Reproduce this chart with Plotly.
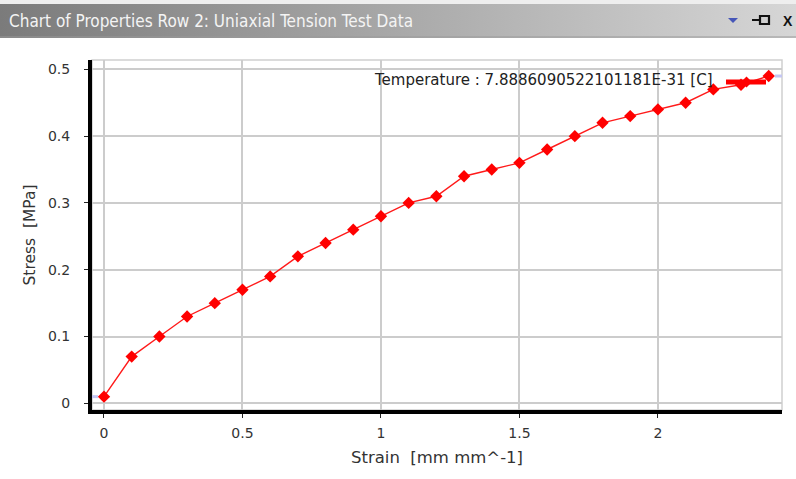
import base64
import plotly.graph_objects as go

# ---------------- data ----------------
strain = [0.0, 0.1, 0.2, 0.3, 0.4, 0.5, 0.6, 0.7, 0.8, 0.9, 1.0, 1.1, 1.2,
          1.3, 1.4, 1.5, 1.6, 1.7, 1.8, 1.9, 2.0, 2.1, 2.2, 2.3, 2.4]
stress = [0.01, 0.07, 0.10, 0.13, 0.15, 0.17, 0.19, 0.22, 0.24, 0.26, 0.28, 0.30, 0.31,
          0.34, 0.35, 0.36, 0.38, 0.40, 0.42, 0.43, 0.44, 0.45, 0.47, 0.477, 0.49]
x_ticks = [0, 0.5, 1, 1.5, 2]
x_tick_labels = ["0", "0.5", "1", "1.5", "2"]
y_ticks = [0, 0.1, 0.2, 0.3, 0.4, 0.5]
y_tick_labels = ["0", "0.1", "0.2", "0.3", "0.4", "0.5"]
panel_title = "Chart of Properties Row 2: Uniaxial Tension Test Data"
legend_text = "Temperature : 7.8886090522101181E-31 [C]"
x_title = "Strain\u00a0\u00a0[mm mm^-1]"
y_title = "Stress\u00a0\u00a0[MPa]"

# ---------------- layout geometry ----------------
W, H = 796, 479
L, R, T, B = 92, 14, 60, 69
PW, PH = W - L - R, H - T - B


def px(xp):
    return (xp - L) / PW


def py(yp):
    return (H - B - yp) / PH


RED = "#ff1a1a"
FONT = "DejaVu Sans"

fig = go.Figure()
fig.add_trace(go.Scatter(
    x=strain, y=stress, mode="lines+markers",
    line=dict(color=RED, width=1.4),
    marker=dict(symbol="diamond", size=9.5, color="#ff0000"),
    showlegend=False, hoverinfo="skip",
))

# title bar gradient as svg image
svg = ('<svg xmlns="http://www.w3.org/2000/svg" width="796" height="34">'
       '<defs><linearGradient id="g" x1="0" y1="0" x2="1" y2="0">'
       '<stop offset="0" stop-color="#7b7b7b"/><stop offset="1" stop-color="#d6d6d6"/>'
       '</linearGradient></defs><rect width="796" height="34" fill="url(#g)"/>'
       '<rect y="32" width="796" height="2" fill="#9a9a9a" opacity="0.5"/></svg>')
src = "data:image/svg+xml;base64," + base64.b64encode(svg.encode()).decode()

shapes = []
# plot frame (light gray) top/right
shapes.append(dict(type="rect", xref="paper", yref="paper", x0=0, x1=1, y0=0, y1=1,
                   line=dict(color="#cfcfcf", width=1.5), layer="below"))
# top light strip
shapes.append(dict(type="rect", xref="paper", yref="paper", x0=px(0), x1=px(W),
                   y0=py(4), y1=py(0), line=dict(width=0), fillcolor="#eeeeee"))
# legend symbol
shapes.append(dict(type="line", xref="paper", yref="paper", x0=px(726), x1=px(766),
                   y0=py(82), y1=py(82), line=dict(color="#ff0000", width=5)))
cx, cy, s = 746.5, 82, 5.5
shapes.append(dict(type="path", xref="paper", yref="paper",
                   path=f"M {px(cx-s)} {py(cy)} L {px(cx)} {py(cy-s)} L {px(cx+s)} {py(cy)} L {px(cx)} {py(cy+s)} Z",
                   fillcolor="#ff0000", line=dict(width=0)))
# light blue cursor dashes at first / last value
shapes.append(dict(type="line", xref="paper", yref="y", x0=px(92), x1=px(98),
                   y0=stress[0], y1=stress[0], line=dict(color="#c4c6f2", width=3)))
shapes.append(dict(type="line", xref="paper", yref="y", x0=px(775), x1=px(782),
                   y0=stress[-1], y1=stress[-1], line=dict(color="#c4c6f2", width=3)))
# pin icon
shapes.append(dict(type="line", xref="paper", yref="paper", x0=px(752), x1=px(760),
                   y0=py(20), y1=py(20), line=dict(color="#111", width=2)))
shapes.append(dict(type="rect", xref="paper", yref="paper", x0=px(760), x1=px(769),
                   y0=py(24), y1=py(16), line=dict(color="#111", width=2.2), fillcolor="#cfcfcf"))
# blue triangle
shapes.append(dict(type="path", xref="paper", yref="paper",
                   path=f"M {px(728)} {py(18)} L {px(738)} {py(18)} L {px(733)} {py(23)} Z",
                   fillcolor="#4656b8", line=dict(width=0)))

annotations = [
    dict(text=panel_title, xref="paper", yref="paper", x=px(7), y=py(20.5),
         xanchor="left", yanchor="middle", showarrow=False,
         font=dict(family="Liberation Sans Narrow, DejaVu Sans Condensed, Arial", size=17, color="#f4f4f4")),
    dict(text="<b>X</b>", xref="paper", yref="paper", x=px(795), y=py(21),
         xanchor="right", yanchor="middle", showarrow=False,
         font=dict(family="Liberation Sans", size=14, color="#111")),
    dict(text=legend_text, xref="paper", yref="paper", x=px(715), y=py(80),
         xanchor="right", yanchor="middle", showarrow=False,
         font=dict(family=FONT, size=15, color="#222")),
]

axis_common = dict(
    showgrid=True, gridcolor="#cccccc", gridwidth=1.5, zeroline=False,
    showline=True, linecolor="#000000", linewidth=4, mirror=False,
    ticks="outside", ticklen=4, tickcolor="#222", tickwidth=1,
    tickfont=dict(family=FONT, size=14, color="#333"),
)

fig.update_layout(
    width=W, height=H, margin=dict(l=L, r=R, t=T, b=B),
    paper_bgcolor="white", plot_bgcolor="white",
    xaxis=dict(range=[-0.0433, 2.448], tickvals=x_ticks, ticktext=x_tick_labels,
               title=dict(text=x_title, font=dict(family=FONT, size=16.5, color="#333"), standoff=13),
               ticklabelstandoff=3, **axis_common),
    yaxis=dict(range=[-0.010, 0.514], tickvals=y_ticks, ticktext=y_tick_labels,
               title=dict(text=y_title, font=dict(family=FONT, size=15.5, color="#333"), standoff=10),
               ticklabelstandoff=11, **axis_common),
    shapes=shapes, annotations=annotations,
    images=[dict(source=src, xref="paper", yref="paper", x=px(0), y=py(4),
                 sizex=W / PW, sizey=34 / PH, sizing="stretch", xanchor="left", yanchor="top",
                 layer="below")],
    showlegend=False,
)

fig.write_html("out.html", config={"displayModeBar": False},
               post_script="document.body.style.margin='0';document.body.style.overflow='hidden';")
